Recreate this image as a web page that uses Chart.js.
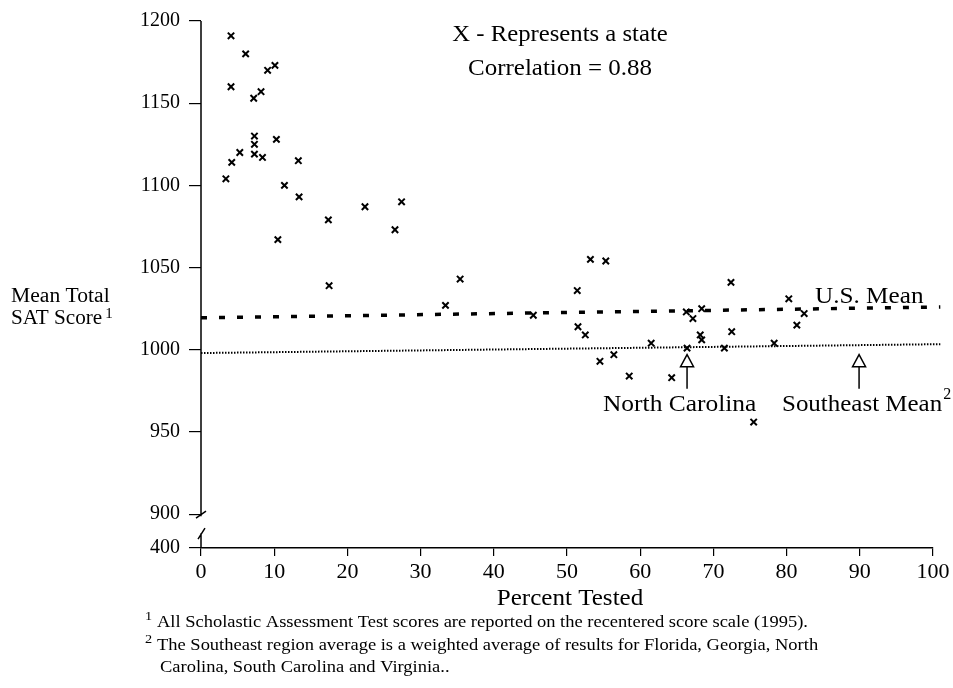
<!DOCTYPE html>
<html><head><meta charset="utf-8">
<script src="https://cdn.jsdelivr.net/npm/chart.js@4.4.0/dist/chart.umd.min.js"></script>
<style>html,body{margin:0;padding:0;background:#fff;} #c{display:block;}</style>
</head><body>
<canvas id="c" width="953" height="688"></canvas>
<script>
// ---- data ----
const percentTested = [4.1, 6.1, 9.1, 10.1, 4.1, 7.2, 8.2, 7.3, 7.3, 10.3, 5.3, 4.2, 7.3, 8.4, 13.3, 3.4, 11.4, 13.4, 17.4, 10.5,
  22.4, 27.4, 26.5, 17.5, 35.4, 33.4, 53.2, 55.3, 51.4, 45.4, 51.5, 52.5, 54.5, 56.4, 58.5, 61.5, 64.3, 66.4, 66.3, 67.2,
  72.4, 68.4, 68.2, 68.4, 71.5, 72.5, 78.3, 80.3, 82.4, 81.4, 75.5];
const meanScore = [1191, 1180, 1170, 1173, 1160, 1153, 1157, 1130, 1125, 1128, 1120, 1114, 1119, 1117, 1115, 1104, 1100, 1093, 1079, 1067,
  1087, 1090, 1073, 1039, 1043, 1027, 1055, 1054, 1036, 1021, 1014, 1009, 993, 997, 984, 1004, 983, 1001, 1023, 1019,
  1041, 1025, 1009, 1006, 1001, 1011, 1004, 1031, 1022, 1015, 956];
const usMeanX = [0, 101];
const usMeanY = [1019.4, 1026];
const seMeanX = [0, 101];
const seMeanY = [998, 1003.4];
const xTickValues = [0, 10, 20, 30, 40, 50, 60, 70, 80, 90, 100];
const yTickValues = [900, 950, 1000, 1050, 1100, 1150, 1200];
const yBreakLabel = '400';
const yMin = 879.4, yMax = 1200;
const ncPercent = 66.4, seArrowPercent = 89.9, arrowTipScore = 997;

const FONT = '"Liberation Serif", "Times New Roman", serif';

function pts(xs, ys) { return xs.map((x, i) => ({x: x, y: ys[i]})); }

function txt(ctx, s, x, y, size, sx, align) {
  ctx.save();
  ctx.font = size + 'px ' + FONT;
  ctx.textAlign = align || 'left';
  ctx.translate(x, y);
  ctx.scale(sx, 1);
  ctx.fillText(s, 0, 0);
  const w = ctx.measureText(s).width * sx;
  ctx.restore();
  return w;
}

const annot = {
  id: 'annot',
  afterDraw(chart) {
    const ctx = chart.ctx;
    const xs = chart.scales.x, ys = chart.scales.y;
    const L = xs.left, B = ys.bottom, T = ys.top;
    const y900 = ys.getPixelForValue(900);
    ctx.save();
    ctx.strokeStyle = '#000';
    ctx.fillStyle = '#000';
    ctx.lineWidth = 1.5;
    // y axis with break
    ctx.beginPath();
    ctx.moveTo(L, T); ctx.lineTo(L, y900 + 2);
    ctx.moveTo(L - 5, y900 + 4); ctx.lineTo(L + 5, y900 - 3);
    ctx.moveTo(L - 3, y900 + 25); ctx.lineTo(L + 4, y900 + 14);
    ctx.moveTo(L, y900 + 19); ctx.lineTo(L, B);
    ctx.stroke();
    // arrows
    function arrow(v) {
      const x = xs.getPixelForValue(v);
      const tip = ys.getPixelForValue(arrowTipScore);
      ctx.lineWidth = 1.5;
      ctx.fillStyle = '#fff';
      ctx.beginPath();
      ctx.moveTo(x, tip); ctx.lineTo(x - 6.5, tip + 12); ctx.lineTo(x + 6.5, tip + 12); ctx.closePath();
      ctx.fill(); ctx.stroke();
      ctx.beginPath(); ctx.moveTo(x, tip + 12); ctx.lineTo(x, tip + 34); ctx.stroke();
      ctx.fillStyle = '#000';
    }
    arrow(ncPercent);
    arrow(seArrowPercent);
    ctx.textBaseline = 'alphabetic';
    // texts
    txt(ctx, 'X - Represents a state', 560, 41, 24, 1.03, 'center');
    txt(ctx, 'Correlation = 0.88', 560, 75, 24, 1.04, 'center');
    txt(ctx, 'U.S. Mean', 815, 303, 24, 1.05);
    txt(ctx, 'North Carolina', 603, 411, 24, 1.06);
    const w = txt(ctx, 'Southeast Mean', 782, 411, 24, 1.04);
    txt(ctx, '2', 782 + w + 1, 399, 16, 1);
    txt(ctx, 'Mean Total', 11, 302, 20, 1.08);
    const w2 = txt(ctx, 'SAT Score', 11, 324, 20, 1.06);
    txt(ctx, '1', 11 + w2 + 3, 318, 15, 1);
    txt(ctx, 'Percent Tested', 570, 605, 23, 1.09, 'center');
    txt(ctx, '1', 145, 620, 13, 1.1);
    txt(ctx, '2', 145, 643, 13, 1.1);
    txt(ctx, 'All Scholastic Assessment Test scores are reported on the recentered score scale (1995).', 157, 627, 16, 1.155);
    txt(ctx, 'The Southeast region average is a weighted average of results for Florida, Georgia, North', 157, 650, 16, 1.155);
    txt(ctx, 'Carolina, South Carolina and Virginia..', 160, 672, 16, 1.155);
    ctx.restore();
  }
};

new Chart(document.getElementById('c'), {
  type: 'scatter',
  data: {
    datasets: [
      { label: 'States', data: pts(percentTested, meanScore), pointStyle: 'crossRot', pointRadius: 4.5,
        pointHoverRadius: 4.5, borderColor: '#000', backgroundColor: '#000', borderWidth: 2 },
      { type: 'line', label: 'U.S. Mean', data: pts(usMeanX, usMeanY), borderColor: '#000', borderWidth: 3.5,
        borderDash: [6, 12], pointRadius: 0, fill: false, clip: false, tension: 0 },
      { type: 'line', label: 'Southeast Mean', data: pts(seMeanX, seMeanY), borderColor: '#000', borderWidth: 2,
        borderDash: [1.5, 1.5], pointRadius: 0, fill: false, clip: false, tension: 0 }
    ]
  },
  options: {
    responsive: false,
    animation: false,
    layout: { padding: { top: 20, right: 20, left: 0, bottom: 0 } },
    plugins: { legend: { display: false }, tooltip: { enabled: false }, title: { display: false } },
    scales: {
      x: {
        type: 'linear', min: 0, max: 100,
        afterBuildTicks(s) { s.ticks = xTickValues.map(v => ({value: v})); },
        afterFit(s) { s.height = 140; },
        grid: { drawOnChartArea: false, drawTicks: true, tickLength: 8, color: '#000', lineWidth: 1.2 },
        border: { display: true, color: '#000', width: 1.5 },
        ticks: { color: '#000', font: { family: FONT, size: 22 }, padding: 3, maxRotation: 0, autoSkip: false }
      },
      y: {
        type: 'linear', min: yMin, max: yMax,
        afterBuildTicks(s) { s.ticks = [{value: yMin}].concat(yTickValues.map(v => ({value: v}))); },
        afterFit(s) { s.width = 201; },
        grid: { drawOnChartArea: false, drawTicks: true, tickLength: 12, color: '#000', lineWidth: 1.2 },
        border: { display: false },
        ticks: { color: '#000', font: { family: FONT, size: 20 }, padding: 9, autoSkip: false,
          callback: (v) => (v === yMin ? yBreakLabel : String(v)) }
      }
    }
  },
  plugins: [annot]
});
</script>
</body></html>
